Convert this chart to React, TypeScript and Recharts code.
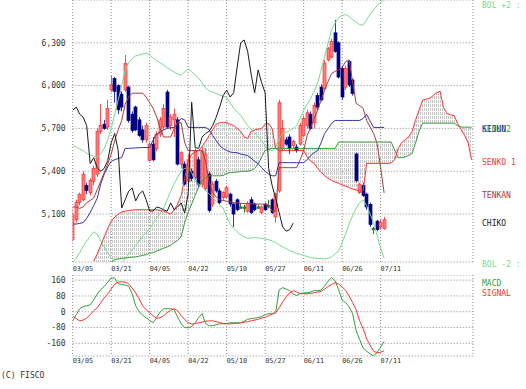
import React from 'react';
import { ComposedChart, Line, Bar, Area, XAxis, YAxis, CartesianGrid } from 'recharts';

// ---- categories (trading days) ----
const dates = [
  '03/05','03/06','03/07','03/08','03/11','03/12','03/13','03/14','03/15','03/18','03/19','03/21','03/22','03/25','03/26','03/27','03/28','03/29',
  '04/01','04/02','04/03','04/04','04/05','04/08','04/09','04/10','04/11','04/12','04/15','04/16','04/17','04/18','04/19','04/22','04/23','04/24','04/25','04/26','04/30',
  '05/01','05/02','05/07','05/08','05/09','05/10','05/13','05/14','05/15','05/16','05/17','05/20','05/21','05/22','05/23','05/24','05/27','05/28','05/29','05/30','05/31',
  '06/03','06/04','06/05','06/06','06/07','06/10','06/11','06/12','06/13','06/14','06/17','06/18','06/19','06/20','06/21','06/24','06/25','06/26','06/27','06/28',
  '07/01','07/02','07/03','07/04','07/05','07/08','07/09','07/10','07/11','07/12',
];
const tickIndex = [0, 11, 22, 33, 44, 55, 66, 77, 88];
const tickLabels = ['03/05','03/21','04/05','04/22','05/10','05/27','06/11','06/26','07/11'];
const priceTicks = [5100, 5400, 5700, 6000, 6300];
const macdTicks = [-160, -80, 0, 80, 160];

// ---- candles ----
const opens = [4920,5060,5180,5200,5300,5250,5330,5380,5680,5730,5710,5970,6050,6000,5940,5970,5990,5800,5850,5760,5690,5620,5475,5590,5560,5660,5710,5955,5720,5760,5760,5450,5450,5330,5400,5360,5480,5310,5280,5380,5170,5330,5262,5215,5220,5240,5170,5200,5150,5150,5120,5200,5170,5150,5110,5170,5160,5200,5080,5262,5560,5620,5640,5580,5570,5590,5650,5720,5800,5740,5930,5990,5980,6180,6200,6370,6300,6120,5990,6168,6040,5521,5250,5300,5240,5168,5000,5050,5010,5000];
const highs = [5140,5200,5250,5400,5320,5350,5440,5700,5870,5760,5900,6070,6060,6010,5960,6215,6000,5820,5860,5780,5720,5740,5600,5640,5680,5780,5870,5970,5800,5840,5780,5540,5470,5520,5420,5560,5500,5570,5560,5400,5330,5345,5280,5260,5300,5250,5180,5210,5175,5165,5190,5220,5180,5165,5160,5180,5200,5210,5250,5900,5760,5640,5660,5620,5590,5740,5790,5830,5820,5880,5950,6010,6180,6270,6330,6460,6310,6140,6140,6180,6050,5530,5320,5320,5250,5180,5010,5060,5060,5080];
const lows = [4900,5040,5160,5190,5240,5230,5300,5360,5660,5690,5690,5955,5880,5800,5820,5955,5740,5670,5680,5640,5600,5600,5470,5470,5540,5640,5690,5700,5690,5640,5440,5420,5300,5320,5330,5340,5290,5290,5260,5110,5150,5250,5170,5200,5210,5150,5010,5120,5140,5110,5110,5100,5120,5140,5100,5120,5140,5100,5040,5250,5540,5580,5520,5560,5530,5580,5640,5700,5690,5700,5830,5890,5970,6170,6190,6230,6050,5900,5970,5990,5930,5320,5240,5220,5130,5010,4960,4980,4990,4990];
const closes = [5095,5180,5240,5380,5265,5335,5420,5680,5720,5700,5840,6005,5960,5830,5850,6155,5755,5685,5690,5650,5620,5720,5590,5480,5660,5760,5840,5710,5780,5800,5450,5530,5310,5480,5350,5540,5310,5540,5520,5125,5310,5262,5180,5250,5285,5170,5100,5130,5150,5150,5175,5110,5130,5150,5150,5130,5160,5110,5240,5880,5700,5590,5560,5610,5545,5720,5770,5810,5700,5860,5850,5900,6157,6262,6310,6240,6060,5920,6121,6004,5945,5333,5310,5230,5150,5027,5000,4992,5040,5060];

// ---- ichimoku ----
const tenkan = [5150,5150,5140,5150,5180,5195,5213,5270,5330,5390,5450,5520,5615,5690,5756,5870,5920,5947,5947,5947,5947,5920,5880,5840,5780,5700,5640,5640,5640,5700,5740,5740,5600,5545,5545,5545,5545,5545,5470,5320,5250,5220,5200,5195,5190,5185,5180,5178,5175,5175,5175,5172,5170,5170,5170,5168,5165,5121,5121,5425,5425,5425,5425,5425,5425,5480,5545,5650,5707,5770,5827,5900,5968,6030,6086,6100,6110,6128,6168,6180,6025,5876,5860,5841,5756,5710,5665,5594,5425,5248];
const kijun = [5030,5030,5035,5040,5070,5110,5160,5210,5310,5380,5430,5470,5480,5490,5495,5560,5560,5562,5564,5565,5566,5566,5566,5620,5660,5675,5690,5700,5705,5707,5740,5770,5760,5707,5707,5707,5707,5707,5707,5690,5650,5615,5580,5560,5545,5535,5531,5530,5520,5515,5510,5490,5470,5453,5425,5400,5380,5368,5368,5460,5460,5460,5460,5460,5460,5460,5460,5480,5510,5530,5545,5600,5665,5700,5735,5756,5756,5756,5756,5756,5756,5756,5756,5770,5800,5750,5707,5707,5707,5707];
const SENKO_START = 6;
const senko1 = [4770,4820,4880,4940,5000,5050,5080,5100,5115,5120,5125,5128,5130,5130,5130,5130,5130,5130,5130,5125,5120,5110,5100,5130,5170,5230,5350,5470,5520,5535,5545,5575,5610,5650,5690,5730,5740,5742,5742,5730,5720,5700,5680,5640,5630,5680,5690,5695,5700,5730,5735,5700,5560,5545,5545,5545,5545,5545,5545,5545,5545,5500,5470,5455,5420,5390,5370,5350,5335,5325,5315,5305,5295,5285,5275,5268,5262,5262,5455,5455,5455,5455,5455,5455,5455,5458,5480,5560,5600,5620,5640,5680,5760,5830,5898,5905,5912,5930,5950,5960,5845,5806,5795,5790,5735,5690,5650,5600,5480];
const senko2 = [4700,4710,4720,4730,4740,4760,4780,4785,4790,4792,4795,4798,4800,4805,4810,4815,4825,4830,4840,4850,4860,4870,4880,4900,4915,4940,5040,5110,5170,5230,5290,5333,5355,5368,5368,5368,5368,5370,5385,5390,5392,5395,5398,5400,5400,5405,5420,5450,5500,5545,5555,5560,5560,5560,5560,5560,5560,5560,5560,5560,5560,5560,5560,5560,5560,5560,5560,5560,5560,5560,5605,5605,5605,5605,5605,5605,5605,5605,5605,5605,5605,5605,5605,5605,5605,5605,5550,5495,5495,5500,5510,5524,5600,5680,5737,5737,5737,5737,5737,5737,5737,5737,5737,5737,5720,5709,5709,5709,5709];
const chiko = [5827,5850,5800,5778,5720,5453,5495,5425,5400,5420,5474,5600,5665,5545,5142,5200,5260,5283,5192,5240,5262,5200,5121,5121,5150,5142,5130,5120,5178,5130,5150,5178,5107,5241,5883,5566,5560,5640,5665,5680,5720,5778,5850,5930,5968,5920,5950,6130,6300,6320,6240,6080,5950,6110,6020,5950,5420,5300,5210,5110,5010,4980,4990,5036];

// ---- bollinger ----
const bolUpper = [5580,5570,5555,5545,5525,5512,5505,5502,5520,5560,5620,5700,5800,5900,6000,6110,6160,6190,6208,6215,6222,6229,6215,6194,6175,6160,6145,6125,6110,6095,6081,6074,6095,6117,6100,6075,6053,6020,5982,5965,5954,5945,5933,5925,5919,5880,5841,5815,5792,5755,5721,5695,5672,5640,5615,5580,5550,5545,5565,5629,5665,5672,5686,5700,5721,5770,5827,5870,5910,5960,6018,6110,6201,6300,6392,6440,6476,6490,6498,6485,6462,6445,6427,6425,6462,6500,6533,6560,6582,6604];
const bolLower = [4760,4790,4830,4874,4910,4945,4975,4960,4910,4870,4825,4795,4768,4745,4750,4790,4820,4850,4880,4910,4945,4970,5000,5035,5070,5105,5142,5200,5260,5312,5360,5400,5420,5425,5390,5330,5310,5290,5265,5241,5215,5190,5165,5142,5080,5030,5000,4975,4955,4940,4930,4932,4935,4932,4930,4925,4920,4910,4900,4885,4870,4858,4845,4835,4825,4818,4810,4802,4795,4792,4790,4788,4785,4790,4800,4820,4840,4900,4960,5030,5090,5140,5180,5200,5160,5100,5040,4950,4860,4790];

// ---- MACD ----
const macd = [-46,-15,15,27,30,35,60,90,112,128,150,172,170,142,138,135,130,91,30,0,-18,-30,-45,-55,-30,0,15,15,16,10,-28,-60,-80,-81,-75,-56,-30,-10,-60,-71,-71,-66,-61,-61,-60,-56,-56,-56,-56,-48,-38,-35,-32,-29,-25,-15,-10,-10,-5,110,122,115,107,90,82,92,96,96,100,107,107,110,130,155,173,157,110,60,46,25,-10,-96,-140,-183,-200,-213,-225,-205,-180,-150];
const signal = [-20,-35,-46,-42,-32,-15,5,20,45,70,90,115,140,150,152,150,142,120,95,65,30,10,-5,-20,-33,-30,-20,-5,8,15,5,-20,-40,-55,-62,-60,-56,-52,-48,-46,-46,-50,-55,-60,-61,-61,-60,-58,-56,-53,-50,-46,-42,-38,-32,-28,-20,-12,-5,20,50,75,95,107,100,92,91,91,93,96,100,103,115,128,138,147,140,125,108,80,46,10,-46,-85,-137,-170,-200,-208,-205,-198];

const N_ALL = SENKO_START + senko1.length; // 115 slots incl. the forward cloud

const rows = Array.from({ length: N_ALL }, (_, i) => {
  const r: any = { i };
  if (i < dates.length) {
    r.date = dates[i];
    r.o = opens[i]; r.h = highs[i]; r.l = lows[i]; r.c = closes[i];
    r.range = [lows[i], highs[i]];
    r.tenkan = tenkan[i]; r.kijun = kijun[i];
    r.bu = bolUpper[i]; r.bl = bolLower[i];
    r.macd = macd[i]; r.signal = signal[i];
  }
  if (i < chiko.length) r.chiko = chiko[i];
  const k = i - SENKO_START;
  if (k >= 0 && k < senko1.length) {
    r.senko1 = senko1[k]; r.senko2 = senko2[k];
    r.cloud = [Math.min(senko1[k], senko2[k]), Math.max(senko1[k], senko2[k])];
  }
  return r;
});

const MONO = 'DejaVu Sans Mono';
const GRID = '#8a8a8a';
const C_BOL = '#74dc8c';
const C_S2 = '#3a9a3a';
const C_S1 = '#ff3333';
const C_KIJUN = '#34349c';
const C_TENKAN = '#a83a3a';
const C_CHIKO = '#1a1a1a';

const Candle = (props: any) => {
  const { x, y, width, height, payload } = props;
  if (!payload || payload.o == null || x == null || y == null) return null;
  const { o, h, l, c } = payload;
  const top = Math.min(y, y + height);
  const hgt = Math.abs(height);
  const cx = Math.round(x + width / 2) + 0.5;
  const py = (v: number) => (h === l ? top : top + ((h - v) / (h - l)) * hgt);
  const yo = py(o);
  const yc = py(c);
  const doji = o === c;
  const up = c > o;
  const edge = doji ? '#2a7a2a' : up ? '#ff3030' : '#000080';
  const fill = doji ? '#2a7a2a' : up ? '#ff7f7f' : '#000080';
  const wick = doji ? '#2a7a2a' : up ? '#ff4a4a' : '#3434c4';
  const bTop = Math.min(yo, yc);
  const bH = Math.max(1.5, Math.abs(yc - yo));
  return (
    <g>
      <line x1={cx} x2={cx} y1={top} y2={top + hgt} stroke={wick} strokeWidth={1} />
      <rect x={cx - 1.5} y={bTop} width={3} height={bH} fill={fill} stroke={edge} strokeWidth={0.7} />
    </g>
  );
};

const labelOf = (v: number) => {
  const k = tickIndex.indexOf(v);
  return k >= 0 ? tickLabels[k] : dates[v] || '';
};

const makeDateTick = (dy: number) => (p: any) => (
  <text x={p.x} y={p.y} dy={dy} textAnchor="start" fontSize={6.8} fontFamily={MONO} fill="#333">
    {labelOf(p.payload.value)}
  </text>
);

const fmt = (v: number) => v.toLocaleString('en-US');

export default function App() {
  const X_DOMAIN: [number, number] = [0, 114.4];
  return (
    <div style={{ position: 'absolute', left: 0, top: 0, width: 526, height: 389, background: '#fff', overflow: 'hidden' }}>
      <svg width={0} height={0} style={{ position: 'absolute' }}>
        <defs>
          <pattern id="hatch" patternUnits="userSpaceOnUse" width="2" height="4">
            <rect x="0" y="0" width="1" height="3" fill="#c6c6c6" />
          </pattern>
        </defs>
      </svg>
      <div style={{ position: 'absolute', left: 0, top: 0 }}>
        <ComposedChart width={526} height={275} data={rows} margin={{ top: 0, right: 53, bottom: 0, left: 0 }}>
          <CartesianGrid stroke={GRID} strokeDasharray="1 2" />
          <XAxis dataKey="i" type="number" domain={X_DOMAIN} ticks={tickIndex} interval={0} allowDataOverflow
            tick={makeDateTick(8.7)} tickLine={false} axisLine={false} tickSize={0} tickMargin={0} height={13} />
          <YAxis type="number" domain={[4764, 6600]} ticks={priceTicks} interval={0} allowDataOverflow width={72.7}
            tickFormatter={fmt} tickLine={false} axisLine={false} tickSize={5} tickMargin={2}
            tick={{ fontSize: 8, fontFamily: MONO, fill: '#333' }} />
          <Area dataKey="cloud" stroke="none" fill="url(#hatch)" fillOpacity={1} isAnimationActive={false} connectNulls={false} />
          <Line dataKey="bu" stroke={C_BOL} strokeWidth={1} dot={false} activeDot={false} isAnimationActive={false} />
          <Line dataKey="bl" stroke={C_BOL} strokeWidth={1} dot={false} activeDot={false} isAnimationActive={false} />
          <Line dataKey="senko2" stroke={C_S2} strokeWidth={1} dot={false} activeDot={false} isAnimationActive={false} />
          <Line dataKey="senko1" stroke={C_S1} strokeWidth={1} dot={false} activeDot={false} isAnimationActive={false} />
          <Line dataKey="kijun" stroke={C_KIJUN} strokeWidth={1} dot={false} activeDot={false} isAnimationActive={false} />
          <Line dataKey="tenkan" stroke={C_TENKAN} strokeWidth={1} dot={false} activeDot={false} isAnimationActive={false} />
          <Line dataKey="chiko" stroke={C_CHIKO} strokeWidth={1} dot={false} activeDot={false} isAnimationActive={false} />
          <Bar dataKey="range" barSize={3} isAnimationActive={false} shape={(p: any) => <Candle {...p} />} />
        </ComposedChart>
      </div>
      <div style={{ position: 'absolute', left: 0, top: 275 }}>
        <ComposedChart width={526} height={96} data={rows} margin={{ top: 0, right: 53, bottom: 0, left: 0 }}>
          <CartesianGrid stroke={GRID} strokeDasharray="1 2" />
          <XAxis dataKey="i" type="number" domain={X_DOMAIN} ticks={tickIndex} interval={0} allowDataOverflow
            tick={makeDateTick(7.3)} tickLine={false} axisLine={false} tickSize={0} tickMargin={0} height={15} />
          <YAxis type="number" domain={[-224, 186]} ticks={macdTicks} interval={0} allowDataOverflow width={72.7}
            tickLine={false} axisLine={false} tickSize={5} tickMargin={2}
            tick={{ fontSize: 8, fontFamily: MONO, fill: '#333' }} />
          <Line dataKey="macd" stroke={C_S2} strokeWidth={1} dot={false} activeDot={false} isAnimationActive={false} />
          <Line dataKey="signal" stroke={C_S1} strokeWidth={1} dot={false} activeDot={false} isAnimationActive={false} />
        </ComposedChart>
      </div>
      <svg width={526} height={389} style={{ position: 'absolute', left: 0, top: 0, pointerEvents: 'none' }}
        fontFamily={MONO} fontSize={8}>
        <text x={482} y={7.5} fill={C_BOL}>BOL +2 :</text>
        <text x={482} y={131.5} fill={C_S2}>SENKO2</text>
        <text x={482} y={131.5} fill={C_KIJUN}>KIJUN</text>
        <text x={482} y={165} fill={C_S1}>SENKO 1</text>
        <text x={482} y={197.5} fill={C_TENKAN}>TENKAN</text>
        <text x={482} y={225.5} fill={C_CHIKO}>CHIKO</text>
        <text x={482} y={266.5} fill={C_BOL}>BOL -2 :</text>
        <text x={482} y={285.5} fill={C_S2}>MACD</text>
        <text x={482} y={295.5} fill={C_S1}>SIGNAL</text>
        <text x={1} y={377.5} fill="#333">(C) FISCO</text>
      </svg>
    </div>
  );
}
